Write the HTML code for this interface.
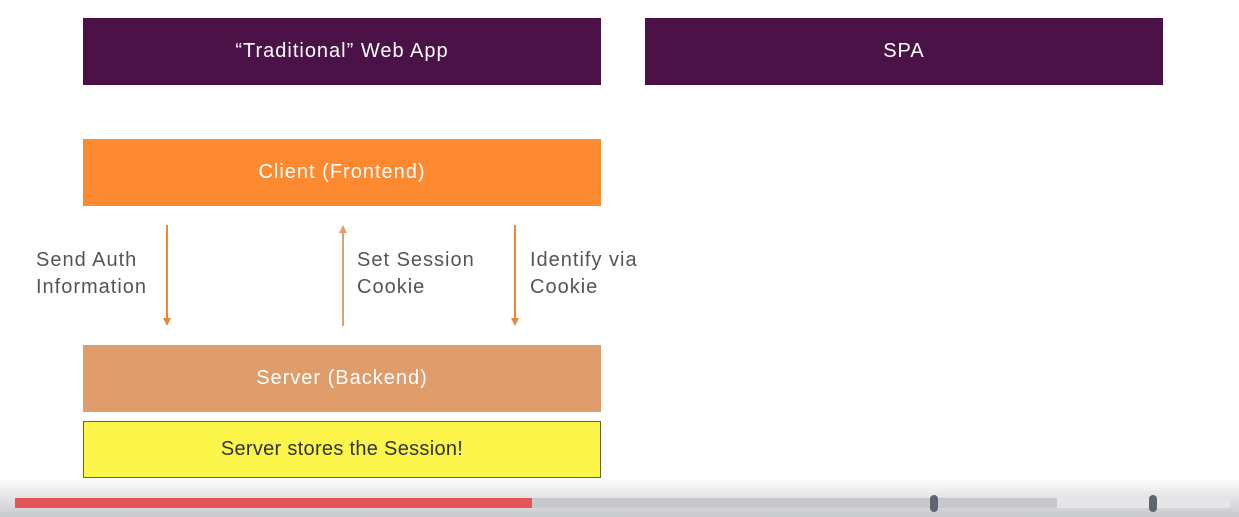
<!DOCTYPE html>
<html><head><style>
body{margin:0;width:1239px;height:517px;position:relative;overflow:hidden;background:#fff;font-family:"Liberation Sans",sans-serif;}
.b{position:absolute;display:flex;align-items:center;justify-content:center;color:#fff;font-size:20px;letter-spacing:1px;}
.t{position:absolute;font-size:20px;color:#555;line-height:27px;letter-spacing:1px;}
</style></head><body>
<div class="b" style="left:83px;top:18px;width:518px;height:67px;background:#4b1248">“Traditional” Web App</div>
<div class="b" style="left:645px;top:18px;width:518px;height:67px;background:#4b1248">SPA</div>
<div class="b" style="left:83px;top:139px;width:518px;height:67px;background:#fd8a30">Client (Frontend)</div>
<div class="b" style="left:83px;top:345px;width:518px;height:67px;background:#e09c6a">Server (Backend)</div>
<div class="b" style="left:83px;top:421px;width:516px;height:55px;background:#fcf64a;border:1px solid #6b6520;color:#333;letter-spacing:0.3px">Server stores the Session!</div>
<svg style="position:absolute;left:0;top:0" width="1239" height="517">
<g stroke-width="2">
<line x1="167" y1="225" x2="167" y2="320" stroke="#e8893a"/><polygon points="163,318 171,318 167,326" fill="#e8893a"/>
<line x1="343" y1="232" x2="343" y2="326" stroke="#e0a070"/><polygon points="339,233 347,233 343,225" fill="#e0a070"/>
<line x1="515" y1="225" x2="515" y2="320" stroke="#e8893a"/><polygon points="511,318 519,318 515,326" fill="#e8893a"/>
</g></svg>
<div class="t" style="left:36px;top:247px">Send Auth<br>Information</div>
<div class="t" style="left:357px;top:247px">Set Session<br>Cookie</div>
<div class="t" style="left:530px;top:247px">Identify via<br>Cookie</div>
<div style="position:absolute;left:0;top:478px;width:1239px;height:39px;background:linear-gradient(rgba(255,255,255,0),#e4e4e6 50%,#c8c9cc)"></div>
<div style="position:absolute;left:15px;top:498px;width:517px;height:10px;background:#e55457"></div>
<div style="position:absolute;left:532px;top:498px;width:525px;height:10px;background:#c7c8cc"></div>
<div style="position:absolute;left:1057px;top:498px;width:173px;height:10px;background:#e6e6e8"></div>
<div style="position:absolute;left:930px;top:495px;width:8px;height:17px;border-radius:4px;background:#5f6670"></div>
<div style="position:absolute;left:1149px;top:495px;width:8px;height:17px;border-radius:4px;background:#5f6670"></div>
</body></html>
